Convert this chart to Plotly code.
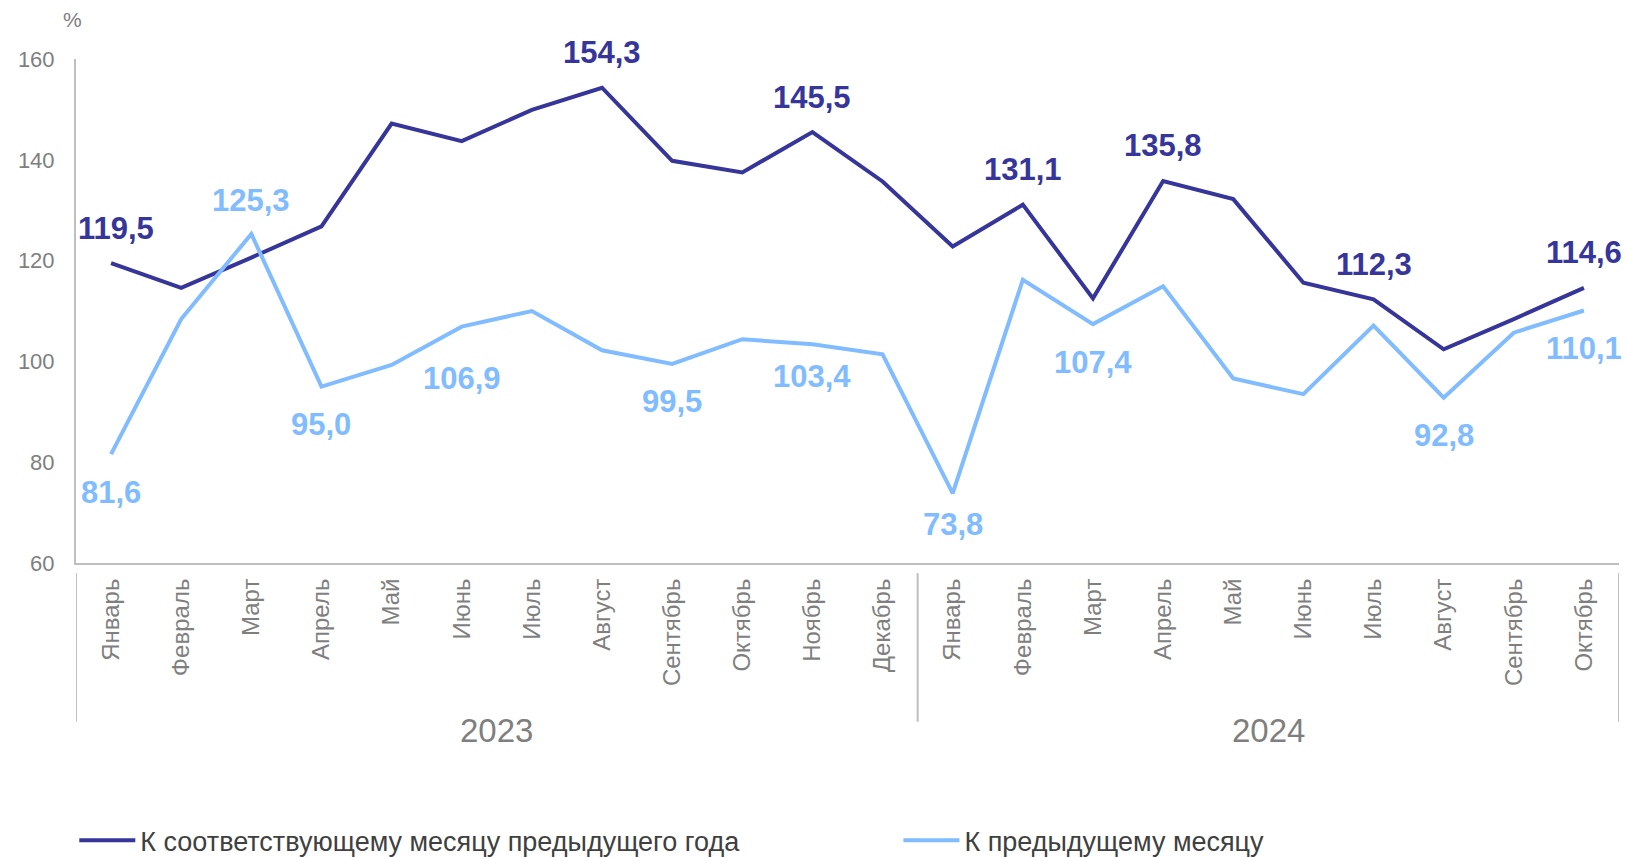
import plotly.graph_objects as go

years = ["2023"] * 12 + ["2024"] * 10
months = ["Январь", "Февраль", "Март", "Апрель", "Май", "Июнь", "Июль", "Август",
          "Сентябрь", "Октябрь", "Ноябрь", "Декабрь",
          "Январь", "Февраль", "Март", "Апрель", "Май", "Июнь", "Июль", "Август",
          "Сентябрь", "Октябрь"]

yoy = [119.5, 114.6, 120.6, 126.8, 147.2, 143.7, 149.9, 154.3, 139.8, 137.5, 145.5, 135.7,
       122.8, 131.1, 112.5, 135.8, 132.2, 115.6, 112.3, 102.4, 108.4, 114.6]
mom = [81.6, 108.4, 125.3, 95.0, 99.3, 106.9, 110.0, 102.2, 99.5, 104.4, 103.4, 101.4,
       73.8, 116.2, 107.4, 114.9, 96.6, 93.5, 107.1, 92.8, 105.7, 110.1]

yoy_labels = [0, 7, 10, 13, 15, 18, 21]
mom_labels_above = [2]
mom_labels_below = [0, 3, 5, 8, 10, 12, 14, 19, 21]

name_yoy = "К соответствующему месяцу предыдущего года"
name_mom = "К предыдущему месяцу"

# label offsets (px) where the reference deviates from the default
ABOVE_SHIFT = 35
BELOW_SHIFT = -38
below_shift_override = {5: -52, 10: -32, 12: -31}
xshift_override = {0: 5}

DARK = "#35359a"
LIGHT = "#80bcff"
GRAY = "#7f7f7f"
AXIS = "#bfbfbf"
FONT = "Liberation Sans, Arial, sans-serif"

x = list(range(len(months)))

fig = go.Figure()
fig.add_trace(go.Scatter(x=x, y=yoy, mode="lines", name=name_yoy,
                         line=dict(color=DARK, width=4), legend="legend"))
fig.add_trace(go.Scatter(x=x, y=mom, mode="lines", name=name_mom,
                         line=dict(color=LIGHT, width=4), legend="legend2"))

def fmt(v):
    return f"{v:.1f}".replace(".", ",")

LBL = 31
ann = []
for i in yoy_labels:
    ann.append(dict(x=x[i], y=yoy[i], text=fmt(yoy[i]), showarrow=False,
                    yshift=ABOVE_SHIFT, xshift=xshift_override.get(i, 0),
                    font=dict(family=FONT, size=LBL, color=DARK, weight="bold")))
for i in mom_labels_above:
    ann.append(dict(x=x[i], y=mom[i], text=fmt(mom[i]), showarrow=False, yshift=33,
                    font=dict(family=FONT, size=LBL, color=LIGHT, weight="bold")))
for i in mom_labels_below:
    ann.append(dict(x=x[i], y=mom[i], text=fmt(mom[i]), showarrow=False,
                    yshift=below_shift_override.get(i, BELOW_SHIFT),
                    font=dict(family=FONT, size=LBL, color=LIGHT, weight="bold")))

# year groups: dividers and labels
shapes = []
groups = []
for i, yv in enumerate(years):
    if not groups or groups[-1][0] != yv:
        groups.append([yv, i, i])
    else:
        groups[-1][2] = i
bounds = [groups[0][1] - 0.5] + [g[2] + 0.5 for g in groups]
for b in bounds:
    shapes.append(dict(type="line", xref="x", yref="paper", x0=b, x1=b,
                       y0=-0.02, y1=-0.315, line=dict(color=AXIS, width=2)))
for g in groups:
    ann.append(dict(x=(g[1] + g[2]) / 2, y=-0.333, xref="x", yref="paper",
                    text=g[0], showarrow=False, yanchor="middle",
                    font=dict(family=FONT, size=33, color=GRAY)))

ann.append(dict(x=0, y=1, xref="paper", yref="paper", text="%", showarrow=False,
                xanchor="center", yanchor="bottom", xshift=-4, yshift=26,
                font=dict(family=FONT, size=21, color=GRAY)))

legfont = dict(family=FONT, size=27, color="#404040")
fig.update_layout(
    width=1627, height=857,
    margin=dict(l=76, r=8, t=59, b=294, autoexpand=False),
    plot_bgcolor="white", paper_bgcolor="white",
    font=dict(family=FONT, color=GRAY),
    annotations=ann, shapes=shapes,
    showlegend=True,
    legend=dict(orientation="h", x=-0.0011, y=-0.551, xanchor="left", yanchor="middle",
                itemwidth=56, font=legfont, bgcolor="rgba(0,0,0,0)"),
    legend2=dict(orientation="h", x=0.533, y=-0.551, xanchor="left", yanchor="middle",
                 itemwidth=56, font=legfont, bgcolor="rgba(0,0,0,0)"),
    xaxis=dict(range=[-0.5, len(months) - 0.5], tickmode="array", tickvals=x, ticktext=months,
               tickangle=-90, showgrid=False, zeroline=False, showline=True,
               linecolor=AXIS, linewidth=2, ticks="", ticklabelstandoff=4,
               tickfont=dict(family=FONT, size=24, color=GRAY)),
    yaxis=dict(range=[60, 160], tickvals=[60, 80, 100, 120, 140, 160], showgrid=False,
               zeroline=False, showline=True, linecolor=AXIS, linewidth=2, ticks="",
               ticklabelstandoff=15, tickfont=dict(family=FONT, size=22, color=GRAY)),
)

fig.write_html("out.html", config={"displayModeBar": False},
               post_script="document.body.style.margin='0';document.body.style.overflow='hidden';")
